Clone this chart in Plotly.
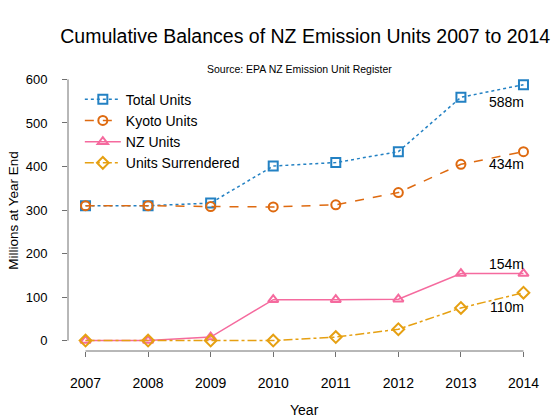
import plotly.graph_objects as go

years = [2007, 2008, 2009, 2010, 2011, 2012, 2013, 2014]
total_units = [310, 310, 316, 401, 409, 434, 559, 588]
kyoto_units = [310, 310, 308, 307, 312, 340, 405, 434]
nz_units = [0, 0, 8, 94, 94, 95, 154, 154]
surrendered = [0, 0, 0, 0, 8, 26, 75, 110]

FONT = "Liberation Sans, Arial, sans-serif"
AXIS_COL = "#707070"

series = [
    ("Total Units", total_units, "#2381C3", "dot", "square-open"),
    ("Kyoto Units", kyoto_units, "#DE6A10", "dash", "circle-open"),
    ("NZ Units", nz_units, "#F56A9E", "solid", "triangle-up-open"),
    ("Units Surrendered", surrendered, "#E6A012", "dashdot", "diamond-open"),
]

fig = go.Figure()
for name, vals, col, dash, sym in series:
    fig.add_trace(go.Scatter(
        x=years, y=vals, name=name, mode="lines+markers",
        line=dict(color=col, width=1.5, dash=dash),
        marker=dict(symbol=sym, size=9, color=col, line=dict(color=col, width=2)),
    ))

# end labels
labels = [(548, "588m"), (405, "434m"), (176, "154m"), (78, "110m")]
for ypos, txt in labels:
    fig.add_annotation(x=2013.73, y=ypos, text=txt, showarrow=False,
                       font=dict(size=14, color="black", family=FONT))

fig.add_annotation(x=0.49, y=1.0, xref="paper", yref="paper", yanchor="middle",
                   text="Source: EPA NZ Emission Unit Register", showarrow=False,
                   font=dict(size=10.5, color="black", family=FONT))
fig.add_annotation(x=0.5, y=-0.245, xref="paper", yref="paper",
                   text="Year", showarrow=False,
                   font=dict(size=14, color="black", family=FONT))
fig.add_annotation(x=-0.137, y=0.5, xref="paper", yref="paper", textangle=-90,
                   text="Millions at Year End", showarrow=False,
                   font=dict(size=13.5, color="black", family=FONT))

# R-style axis lines spanning only the tick range
fig.add_shape(type="line", xref="x", yref="paper", x0=2007, x1=2014, y0=0, y1=0,
              line=dict(color=AXIS_COL, width=1))
fig.add_shape(type="line", xref="paper", yref="y", x0=0, x1=0, y0=0, y1=600,
              line=dict(color=AXIS_COL, width=1))

fig.update_layout(
    width=560, height=420,
    margin=dict(l=68, r=19, t=69, b=69),
    paper_bgcolor="white", plot_bgcolor="white",
    font=dict(family=FONT, size=13, color="black"),
    title=dict(text="Cumulative Balances of NZ Emission Units 2007 to 2014",
               x=0.545, xanchor="center", y=0.914, yanchor="middle",
               font=dict(size=19.5, color="black", family=FONT)),
    legend=dict(x=0.025, y=0.948, xanchor="left", yanchor="top", itemwidth=36,
                bgcolor="rgba(0,0,0,0)", font=dict(size=14), tracegroupgap=0),
    showlegend=True,
)
fig.update_xaxes(range=[2006.72, 2014.28], tickvals=years, showgrid=False,
                 zeroline=False, showline=False, ticks="outside", ticklen=5,
                 tickcolor=AXIS_COL, ticklabelstandoff=14, tickfont=dict(size=14))
fig.update_yaxes(range=[-24, 624], tickvals=[0, 100, 200, 300, 400, 500, 600],
                 showgrid=False, zeroline=False, showline=False, ticks="outside",
                 ticklen=5, tickcolor=AXIS_COL, ticklabelstandoff=12, tickfont=dict(size=13))

fig.write_html("out.html", config={"displayModeBar": False},
               post_script="document.body.style.margin='0';")
